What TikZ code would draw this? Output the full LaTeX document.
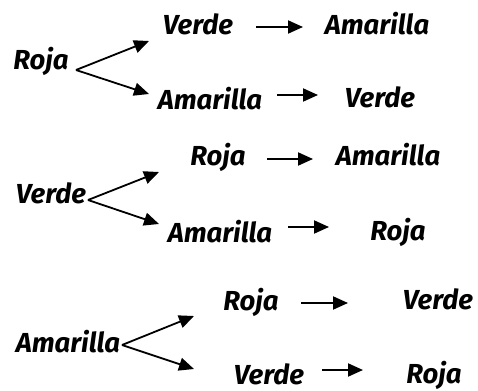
\documentclass[tikz,border=0pt]{standalone}
\usepackage{fontspec}
\setmainfont{Fira Sans}
\usetikzlibrary{arrows.meta}
\tikzset{
  color word/.style={font=\fontsize{27.5}{31}\selectfont\bfseries\itshape, inner sep=0pt, anchor=base},
  branch/.style={line width=1.8pt, -{Triangle[length=15pt,width=13pt]}},
  step arrow/.style={line width=2pt, -{Triangle[length=15pt,width=13pt]}}
}
\begin{document}
\begin{tikzpicture}[x=1pt,y=-1pt]
\useasboundingbox (0,0) rectangle (478,390);

% First light: Roja
\node[color word] (roja1) at (41,70) {Roja};
\node[color word] (verde1) at (198,35) {Verde};
\node[color word] (amarilla1) at (377,35) {Amarilla};
\node[color word] (amarilla1b) at (210,110) {Amarilla};
\node[color word] (verde1b) at (380,108) {Verde};
\coordinate (fork1) at (76,70);
\coordinate (up1) at (149,41);
\coordinate (down1) at (149,94);
\draw[branch] (fork1) -- (up1);
\draw[branch] (fork1) -- (down1);
\coordinate (a1s) at (256,27); \coordinate (a1e) at (303,27);
\draw[step arrow] (a1s) -- (a1e);
\coordinate (b1s) at (277,95); \coordinate (b1e) at (318,95);
\draw[step arrow] (b1s) -- (b1e);

% Second light: Verde
\node[color word] (verde2) at (51,203) {Verde};
\node[color word] (roja2) at (218,165) {Roja};
\node[color word] (amarilla2) at (388,165) {Amarilla};
\node[color word] (amarilla2b) at (220,242) {Amarilla};
\node[color word] (roja2b) at (398,240) {Roja};
\coordinate (fork2) at (88,200);
\coordinate (up2) at (159,172);
\coordinate (down2) at (159,224);
\draw[branch] (fork2) -- (up2);
\draw[branch] (fork2) -- (down2);
\coordinate (a2s) at (267,159); \coordinate (a2e) at (313,159);
\draw[step arrow] (a2s) -- (a2e);
\coordinate (b2s) at (288,227); \coordinate (b2e) at (329,227);
\draw[step arrow] (b2s) -- (b2e);

% Third light: Amarilla
\node[color word] (amarilla3) at (68,352) {Amarilla};
\node[color word] (roja3) at (251,310) {Roja};
\node[color word] (verde3) at (438,309) {Verde};
\node[color word] (verde3b) at (269,384) {Verde};
\node[color word] (roja3b) at (434,383) {Roja};
\coordinate (fork3) at (122,345);
\coordinate (up3) at (194,316);
\coordinate (down3) at (194,369);
\draw[branch] (fork3) -- (up3);
\draw[branch] (fork3) -- (down3);
\coordinate (a3s) at (301,303); \coordinate (a3e) at (348,303);
\draw[step arrow] (a3s) -- (a3e);
\coordinate (b3s) at (322,370); \coordinate (b3e) at (363,370);
\draw[step arrow] (b3s) -- (b3e);
\end{tikzpicture}
\end{document}
